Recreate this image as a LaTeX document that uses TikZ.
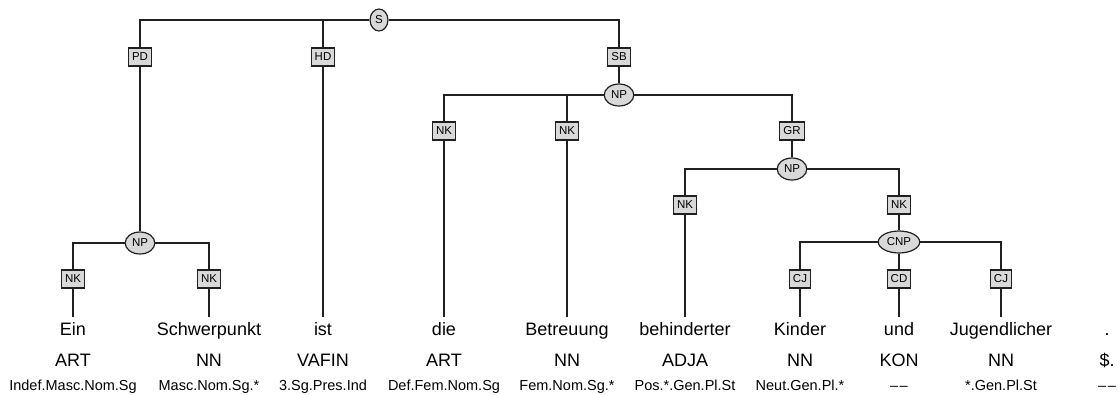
\documentclass[tikz,border=0pt]{standalone}
\usepackage{fontspec}
\setmainfont{Liberation Sans}
\usetikzlibrary{shapes.geometric}
\definecolor{ink}{HTML}{202020}
\definecolor{lab}{HTML}{D9D9D9}
\tikzset{
  cat/.style={ellipse,draw=ink,fill=lab,line width=1.2pt,inner xsep=2.5pt,inner ysep=1pt,minimum height=22pt,font=\fontsize{11.5}{12}\selectfont},
  edgelab/.style={rectangle,draw=ink,fill=lab,line width=1.2pt,inner xsep=3.5pt,inner ysep=0pt,minimum height=18pt,font=\fontsize{11.5}{12}\selectfont},
  word/.style={anchor=base,inner sep=0pt,text height=18pt,font=\fontsize{18}{20}\selectfont},
  postag/.style={anchor=base,inner sep=0pt,font=\fontsize{18}{20}\selectfont},
  morph/.style={anchor=base,inner sep=0pt,font=\fontsize{14.5}{16}\selectfont},
  br/.style={draw=ink,line width=1.4pt},
}
\newcommand{\ddash}{\textendash\kern1.5pt\textendash}
\begin{document}
\begin{tikzpicture}[x=1pt,y=-1pt]
\useasboundingbox (0,0) rectangle (1120,394);
% words
\foreach \n/\x/\w/\p/\m in {
  w1/73/Ein/ART/Indef.Masc.Nom.Sg,
  w2/209/Schwerpunkt/NN/Masc.Nom.Sg.*,
  w3/323/ist/VAFIN/3.Sg.Pres.Ind,
  w4/444/die/ART/Def.Fem.Nom.Sg,
  w5/567/Betreuung/NN/Fem.Nom.Sg.*,
  w6/685/behinderter/ADJA/Pos.*.Gen.Pl.St,
  w7/800/Kinder/NN/Neut.Gen.Pl.*,
  w8/899/und/KON/\ddash,
  w9/1001/Jugendlicher/NN/*.Gen.Pl.St,
  w10/1107/./\$./\ddash}{
  \node[word] (\n) at (\x,335) {\w};
  \node[postag] (\n p) at (\x,366) {\p};
  \node[morph] (\n m) at (\x,390) {\m};
}
% nonterminals
\node[cat] (S) at (379,20) {S};
\node[cat] (NPa) at (140,243) {NP};
\node[cat] (NPb) at (619,95) {NP};
\node[cat] (NPc) at (792,169) {NP};
\node[cat] (CNP) at (899,242) {CNP};
% edge labels
\node[edgelab] (PD) at (140,57) {PD};
\node[edgelab] (HD) at (323,57) {HD};
\node[edgelab] (SB) at (619,57) {SB};
\node[edgelab] (NKa) at (73,279) {NK};
\node[edgelab] (NKb) at (209,279) {NK};
\node[edgelab] (NKc) at (444,131) {NK};
\node[edgelab] (NKd) at (567,131) {NK};
\node[edgelab] (GR) at (792,131) {GR};
\node[edgelab] (NKe) at (685,205) {NK};
\node[edgelab] (NKf) at (899,205) {NK};
\node[edgelab] (CJa) at (800,279) {CJ};
\node[edgelab] (CD) at (899,279) {CD};
\node[edgelab] (CJb) at (1001,279) {CJ};
% branches
\path[br] (S.west) -| (PD.north);
\path[br] (S.west) -| (HD.north);
\path[br] (S.east) -| (SB.north);
\path[br] (PD.south) -- (NPa.north);
\path[br] (HD.south) -- (w3.north);
\path[br] (SB.south) -- (NPb.north);
\path[br] (NPa.west) -| (NKa.north);
\path[br] (NPa.east) -| (NKb.north);
\path[br] (NKa.south) -- (w1.north);
\path[br] (NKb.south) -- (w2.north);
\path[br] (NPb.west) -| (NKc.north);
\path[br] (NPb.west) -| (NKd.north);
\path[br] (NPb.east) -| (GR.north);
\path[br] (NKc.south) -- (w4.north);
\path[br] (NKd.south) -- (w5.north);
\path[br] (GR.south) -- (NPc.north);
\path[br] (NPc.west) -| (NKe.north);
\path[br] (NPc.east) -| (NKf.north);
\path[br] (NKe.south) -- (w6.north);
\path[br] (NKf.south) -- (CNP.north);
\path[br] (CNP.west) -| (CJa.north);
\path[br] (CNP.south) -- (CD.north);
\path[br] (CNP.east) -| (CJb.north);
\path[br] (CJa.south) -- (w7.north);
\path[br] (CD.south) -- (w8.north);
\path[br] (CJb.south) -- (w9.north);
\end{tikzpicture}
\end{document}
